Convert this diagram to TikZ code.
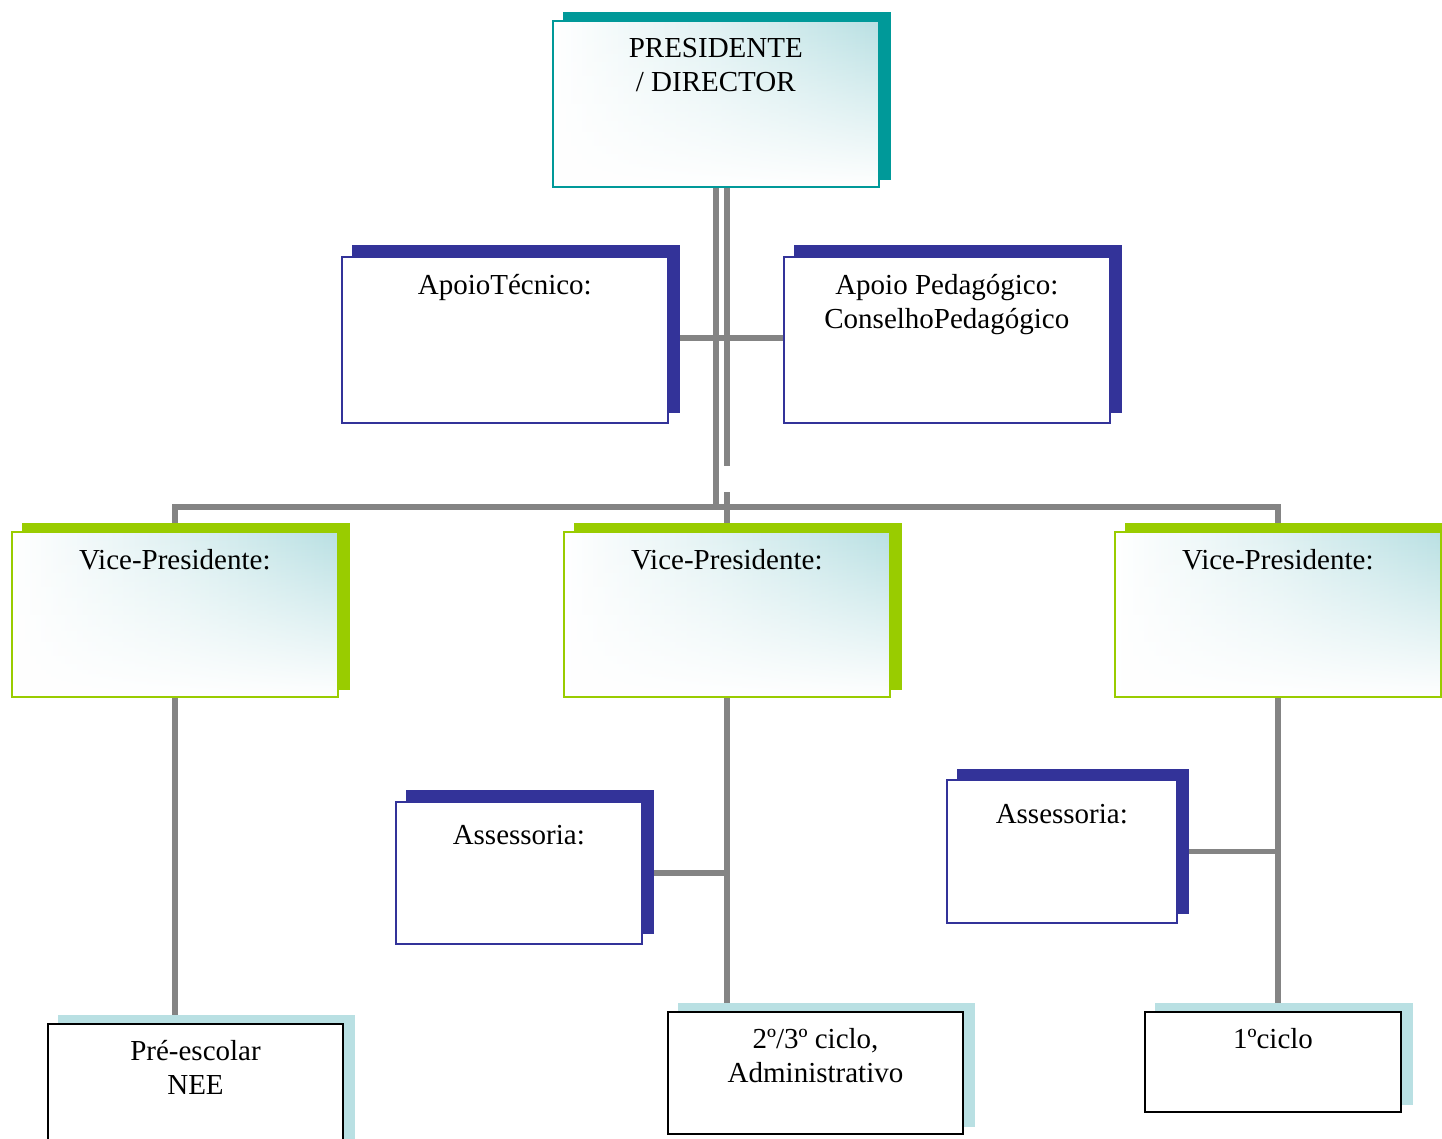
\documentclass[tikz,border=0pt]{standalone}
\usepackage{fontspec}
\setmainfont{Liberation Serif}
\usetikzlibrary{fadings}
\definecolor{tealc}{HTML}{009999}
\definecolor{navyc}{HTML}{333399}
\definecolor{greenc}{HTML}{99CC00}
\definecolor{paleblue}{HTML}{B9E0E3}
\definecolor{linec}{HTML}{848484}
\pgfdeclarelayer{lines}
\pgfdeclarelayer{shadows}
\pgfsetlayers{lines,shadows,main}
\tikzset{
  box/.style={rectangle, anchor=north west, inner sep=0pt, line width=1.6pt},
  gradbox/.style={box, left color=white, right color=paleblue, middle color=paleblue!45,
    path picture={\fill[white,path fading=north] (path picture bounding box.south west) rectangle (path picture bounding box.north east);}},
  plainbox/.style={box, fill=white},
  lbl/.style={anchor=base, align=center, inner sep=0pt, font=\fontsize{29}{34}\selectfont},
  conn/.style={draw=linec, line width=5.5pt, line join=miter},
}
\begin{document}
\begin{tikzpicture}[x=1pt,y=-1pt]
\useasboundingbox (0,0) rectangle (1442,1139);
% boxes
\node[gradbox, draw=tealc, minimum width=326pt, minimum height=166pt] (top) at (552,20) {};
\node[plainbox, draw=navyc, minimum width=326pt, minimum height=166pt] (at) at (341,256) {};
\node[plainbox, draw=navyc, minimum width=326pt, minimum height=166pt] (ap) at (783,256) {};
\node[gradbox, draw=greenc, minimum width=326pt, minimum height=165pt] (vl) at (11,531) {};
\node[gradbox, draw=greenc, minimum width=326pt, minimum height=165pt] (vm) at (563,531) {};
\node[gradbox, draw=greenc, minimum width=326pt, minimum height=165pt] (vr) at (1114,531) {};
\node[plainbox, draw=navyc, minimum width=246pt, minimum height=142pt] (as1) at (395,801) {};
\node[plainbox, draw=navyc, minimum width=230pt, minimum height=143pt] (as2) at (946,779) {};
\node[plainbox, draw=black, line width=2pt, minimum width=295pt, minimum height=122pt] (pe) at (47,1023) {};
\node[plainbox, draw=black, line width=2pt, minimum width=295pt, minimum height=122pt] (c2) at (667,1011) {};
\node[plainbox, draw=black, line width=2pt, minimum width=256pt, minimum height=100pt] (c1) at (1144,1011) {};
% texts (base anchor = baseline of last line)
\node[lbl] (ttop) at ([yshift=-72pt]top.north) {PRESIDENTE\\/ DIRECTOR};
\node[lbl] (tat) at ([yshift=-39pt]at.north) {ApoioTécnico:};
\node[lbl] (tap) at ([yshift=-73pt]ap.north) {Apoio Pedagógico:\\ConselhoPedagógico};
\node[lbl] (tvl) at ([yshift=-38pt]vl.north) {Vice-Presidente:};
\node[lbl] (tvm) at ([yshift=-38pt]vm.north) {Vice-Presidente:};
\node[lbl] (tvr) at ([yshift=-38pt]vr.north) {Vice-Presidente:};
\node[lbl] (tas1) at ([yshift=-43pt]as1.north) {Assessoria:};
\node[lbl] (tas2) at ([yshift=-44pt]as2.north) {Assessoria:};
\node[lbl] (tpe) at ([yshift=-71pt]pe.north) {Pré-escolar\\NEE};
\node[lbl] (tc2) at ([yshift=-71pt]c2.north) {2º/3º ciclo,\\Administrativo};
\node[lbl] (tc1) at ([yshift=-37pt]c1.north) {1ºciclo};
% shadows
\begin{pgfonlayer}{shadows}
\fill[tealc] ([shift={(11pt,8pt)}]top.south west) rectangle ([shift={(11pt,8pt)}]top.north east);
\fill[navyc] ([shift={(11pt,11pt)}]at.south west) rectangle ([shift={(11pt,11pt)}]at.north east);
\fill[navyc] ([shift={(11pt,11pt)}]ap.south west) rectangle ([shift={(11pt,11pt)}]ap.north east);
\foreach \b in {vl,vm,vr}
  \fill[greenc] ([shift={(11pt,8pt)}]\b.south west) rectangle ([shift={(11pt,8pt)}]\b.north east);
\fill[navyc] ([shift={(11pt,11pt)}]as1.south west) rectangle ([shift={(11pt,11pt)}]as1.north east);
\fill[navyc] ([shift={(11pt,10pt)}]as2.south west) rectangle ([shift={(11pt,10pt)}]as2.north east);
\foreach \b in {pe,c2,c1}
  \fill[paleblue] ([shift={(11pt,8pt)}]\b.south west) rectangle ([shift={(11pt,8pt)}]\b.north east);
\end{pgfonlayer}
% connectors
\coordinate (bus) at (715,507);
\coordinate (apy) at (715,338);
\coordinate (gapA) at (726,466);
\coordinate (gapB) at (726,492);
\begin{pgfonlayer}{lines}
\draw[conn] (top.south) -- (top.south |- bus);
\draw[conn] (vl.north) -- (vl.north |- bus) -- (vr.north |- bus) -- (vr.north);
\draw[conn] (vm.north |- top.south) -- (vm.north |- gapA);
\draw[conn] (vm.north |- gapB) -- (vm.north);
\draw[conn] (at.east |- apy) -- (ap.west |- apy);
\draw[conn] (vl.south) -- (vl.south |- pe.north);
\draw[conn] (vm.south) -- (vm.south |- c2.north);
\draw[conn] (vr.south) -- (vr.south |- c1.north);
\draw[conn] (as1.east) -- (as1.east -| vm.south);
\draw[conn] (as2.east) -- (as2.east -| vr.south);
\end{pgfonlayer}
\end{tikzpicture}
\end{document}
